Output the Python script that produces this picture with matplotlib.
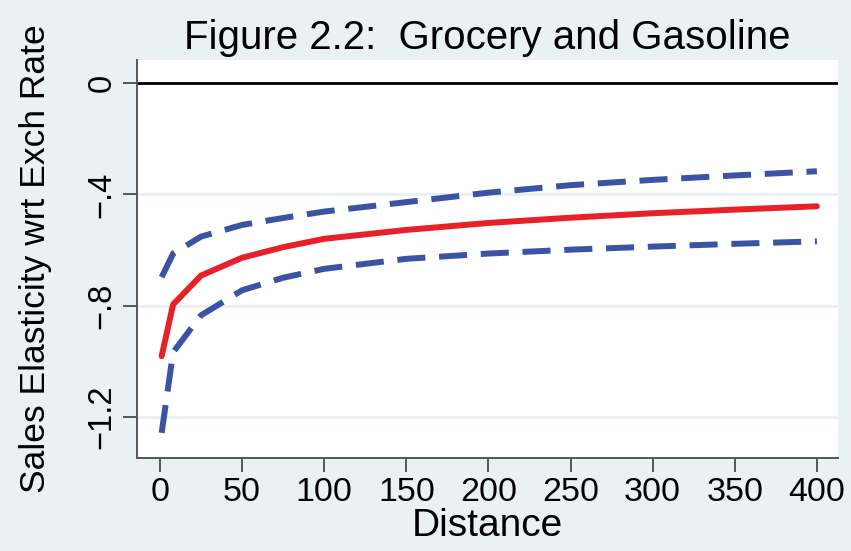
import matplotlib
matplotlib.use("Agg")
import matplotlib.pyplot as plt

distance = [1, 8, 25, 50, 75, 100, 150, 200, 250, 300, 350, 400]
estimate = [-0.982, -0.796, -0.692, -0.628, -0.590, -0.560, -0.528, -0.503, -0.484, -0.468, -0.455, -0.443]
upper_ci = [-0.698, -0.613, -0.552, -0.510, -0.485, -0.462, -0.428, -0.394, -0.367, -0.348, -0.332, -0.317]
lower_ci = [-1.258, -0.968, -0.835, -0.745, -0.700, -0.668, -0.632, -0.613, -0.599, -0.588, -0.578, -0.569]

xticks = [0, 50, 100, 150, 200, 250, 300, 350, 400]
yticks = [0, -0.4, -0.8, -1.2]
ytick_labels = ["0", "\u2212.4", "\u2212.8", "\u22121.2"]

plt.rcParams['font.family'] = ['Liberation Sans', 'DejaVu Sans']

bg = '#EAF1F3'
fig = plt.figure(figsize=(8.51, 5.51), dpi=100, facecolor=bg)
ax = fig.add_axes([0.161, 0.169, 0.824, 0.722])
ax.set_facecolor('white')

for yv in yticks[1:]:
    ax.axhline(yv, color=bg, lw=2.2, zorder=1)
ax.axhline(0, color='black', lw=2.0, zorder=2)

ax.plot(distance, estimate, color='#E8202A', lw=4.3, solid_capstyle='round',
        solid_joinstyle='round', zorder=4)
for ci in (upper_ci, lower_ci):
    ax.plot(distance, ci, color='#3A53A4', lw=4.3, dashes=(4.7, 2.3),
            dash_capstyle='butt', zorder=3)

ax.set_xlim(-14, 413)
ax.set_ylim(-1.348, 0.083)
ax.set_xticks(xticks)
ax.set_xticklabels([str(v) for v in xticks], fontsize=24.5)
ax.set_yticks(yticks)
ax.set_yticklabels(ytick_labels, fontsize=23.5, rotation=90, va='center')

ax.tick_params(axis='both', direction='out', length=10, width=1.4, color='#555555', pad=4)
for side in ('top', 'right'):
    ax.spines[side].set_visible(False)
for side in ('left', 'bottom'):
    ax.spines[side].set_color('#555555')
    ax.spines[side].set_linewidth(1.4)

ax.set_xlabel('Distance', fontsize=28, labelpad=0)
ax.set_ylabel('Sales Elasticity wrt Exch Rate', fontsize=25.5, labelpad=25)
ax.set_title('Figure 2.2:  Grocery and Gasoline', fontsize=29, pad=8)

fig.savefig('out.png', dpi=100, facecolor=bg)
